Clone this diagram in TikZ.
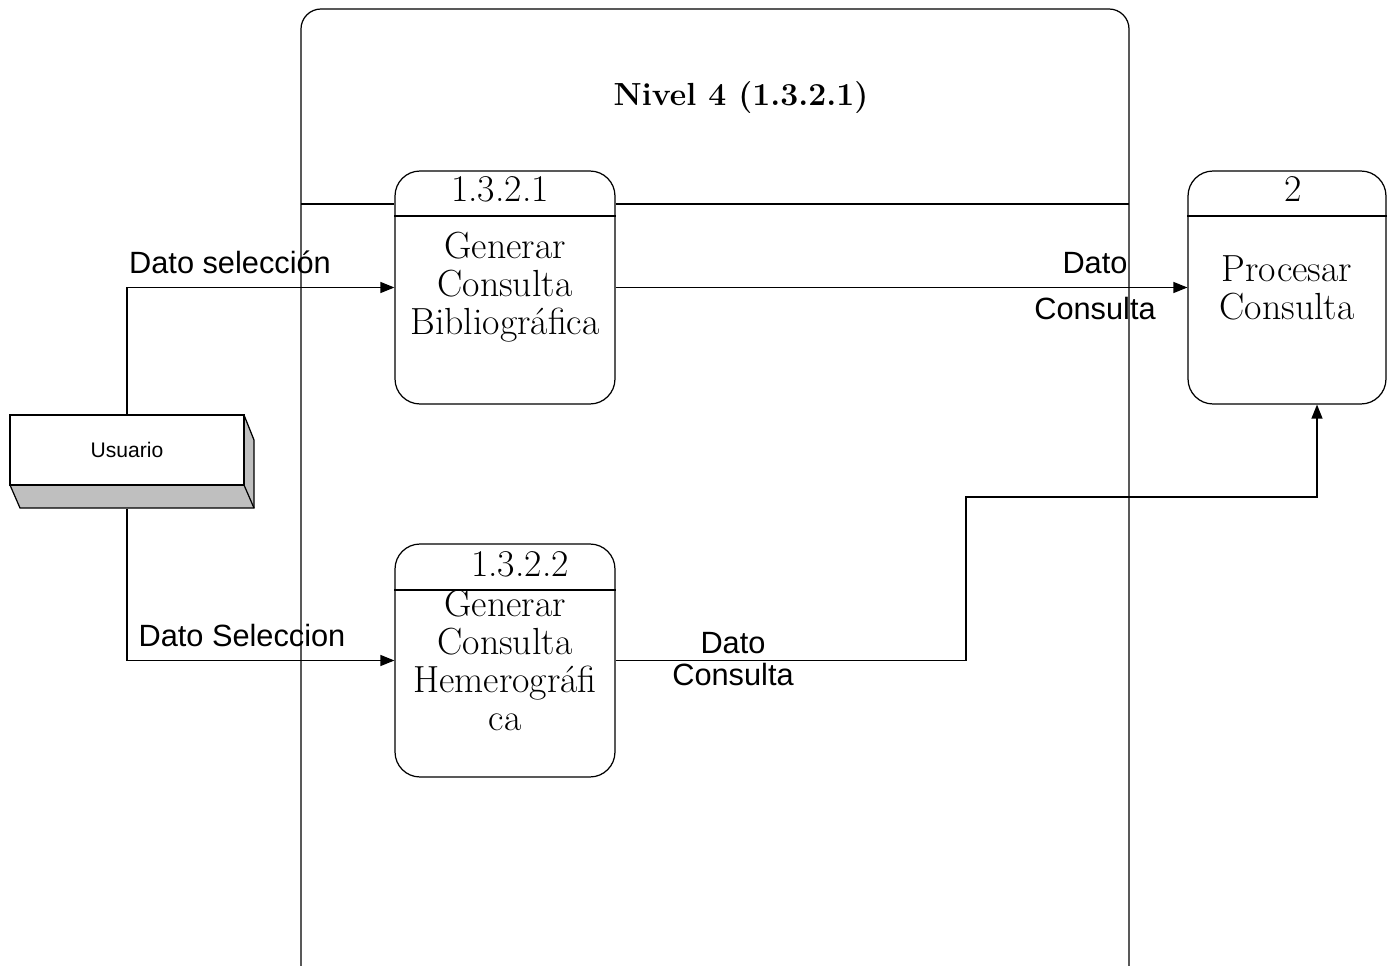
\documentclass[tikz,border=0pt]{standalone}
\usepackage{fontspec}
\newfontfamily\arialfont{Liberation Sans}
\usetikzlibrary{arrows.meta}

\tikzset{
  proc/.style={draw, fill=white, rounded corners=0.5cm, minimum width=4.4cm, minimum height=4.66cm,
    align=center, inner sep=0pt, font=\fontsize{21.5}{21.6}\selectfont},
  procnum/.style={inner sep=0pt, font=\fontsize{21.5}{22}\selectfont},
  flow/.style={-{Triangle[length=0.28cm,width=0.22cm]}},
  lbl/.style={inner sep=0pt, font=\arialfont\fontsize{17.5}{18}\selectfont},
  extent/.style={draw, fill=white, minimum width=4.68cm, minimum height=1.4cm, inner sep=0pt,
    font=\arialfont\fontsize{12}{14}\selectfont},
}

\begin{document}
\begin{tikzpicture}[x=0.02cm, y=-0.02cm, line width=0.7pt]
    \useasboundingbox (0,0) rectangle (1400,966);

    % frame of the level
    \draw[rounded corners=0.4cm] (301,966) -- (301,9) -- (1129,9) -- (1129,966);
    \node[font=\bfseries\fontsize{18.2}{20}\selectfont] (title) at (741,98) {Nivel 4 (1.3.2.1)};

    % processes
    \node[proc] (p1) at (505,287.5) {Generar\\Consulta\\Bibliográfica};
    \node[proc, minimum width=3.96cm] (p2) at (1287,287.5) {Procesar\\Consulta};
    \node[proc] (p3) at (505,660.5) {Generar\\Consulta\\Hemerográfi\\ca};

    \draw (p1.west |- 0,216) -- (p1.east |- 0,216);
    \draw (p2.west |- 0,216) -- (p2.east |- 0,216);
    \draw (p3.west |- 0,590) -- (p3.east |- 0,590);
    \draw (301,204) -- (p1.west |- 0,204);
    \draw (p1.east |- 0,204) -- (1129,204);

    \node[procnum] (n1) at (500,189) {1.3.2.1};
    \node[procnum] (n2) at (1293,189) {2};
    \node[procnum] (n3) at (520,564) {1.3.2.2};

    % external entity
    \fill[black!25] (10,485) -- (20,508) -- (254,508) -- (254,440) -- (244,415) -- (244,485) -- cycle;
    \draw (10,485) -- (20,508) -- (254,508) -- (254,440) -- (244,415);
    \draw (244,485) -- (254,508);
    \node[extent] (usr) at (127,450) {Usuario};

    % data flows
    \coordinate (b1) at (966,497);
    \draw[flow] (usr.north) |- (p1.west);
    \draw[flow] ([yshift=-0.46cm]usr.south) |- (p3.west);
    \draw[flow] (p1.east) -- (p2.west);
    \draw[flow] (p3.east) -| (b1) -| ([xshift=0.6cm]p2.south);

    \node[lbl] (l1) at (230,262) {Dato selección};
    \node[lbl] (l2) at (242,636) {Dato Seleccion};
    \node[lbl] (l3) at (1095,263) {Dato};
    \node[lbl] (l4) at (1095,309) {Consulta};
    \node[lbl] (l5) at (733,643) {Dato};
    \node[lbl] (l6) at (733,675) {Consulta};
\end{tikzpicture}
\end{document}
